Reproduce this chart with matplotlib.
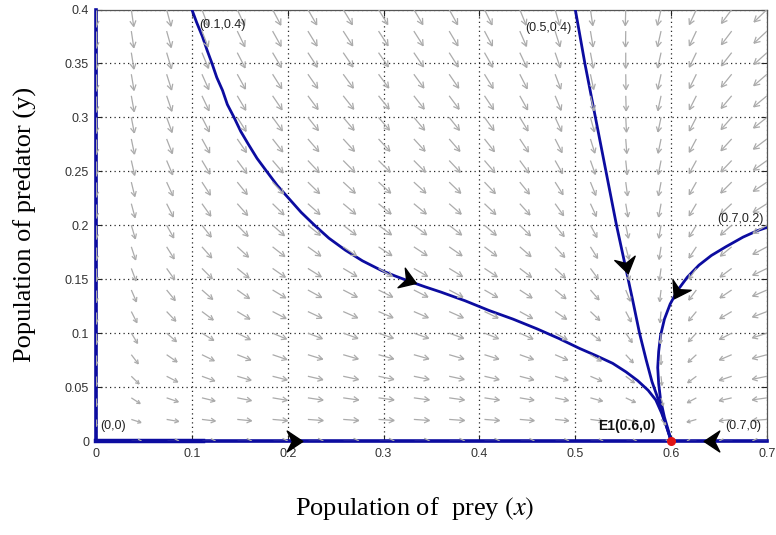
import numpy as np
import matplotlib
matplotlib.use("Agg")
import matplotlib.pyplot as plt
from matplotlib.collections import LineCollection
from matplotlib.markers import MarkerStyle
from matplotlib.path import Path
from matplotlib.transforms import Affine2D

# ---------------- data ----------------
x_ticks = [0, 0.1, 0.2, 0.3, 0.4, 0.5, 0.6, 0.7]
x_tick_labels = ["0", "0.1", "0.2", "0.3", "0.4", "0.5", "0.6", "0.7"]
y_ticks = [0, 0.05, 0.1, 0.15, 0.2, 0.25, 0.3, 0.35, 0.4]
y_tick_labels = ["0", "0.05", "0.1", "0.15", "0.2", "0.25", "0.3", "0.35", "0.4"]

# trajectories
traj_a_x = [0.100, 0.105, 0.111, 0.116, 0.121, 0.126, 0.132, 0.137, 0.144, 0.151,
            0.159, 0.168, 0.178, 0.189, 0.201, 0.214, 0.228, 0.243, 0.260, 0.278,
            0.298, 0.312, 0.327, 0.343, 0.360, 0.385, 0.410, 0.435, 0.460, 0.483,
            0.504, 0.522, 0.539, 0.553, 0.565, 0.576, 0.584, 0.590, 0.595, 0.600]
traj_a_y = [0.400, 0.388, 0.375, 0.362, 0.350, 0.337, 0.325, 0.312, 0.300, 0.287,
            0.275, 0.262, 0.250, 0.237, 0.225, 0.212, 0.200, 0.188, 0.177, 0.167,
            0.158, 0.153, 0.148, 0.143, 0.138, 0.130, 0.121, 0.113, 0.104, 0.095,
            0.086, 0.079, 0.072, 0.064, 0.056, 0.047, 0.038, 0.026, 0.014, 0.000]

traj_b_x = [0.500, 0.510, 0.521, 0.532, 0.543, 0.552, 0.560, 0.567, 0.574, 0.580,
            0.586, 0.592, 0.596, 0.600]
traj_b_y = [0.400, 0.350, 0.300, 0.250, 0.200, 0.163, 0.130, 0.100, 0.075, 0.055,
            0.040, 0.022, 0.011, 0.000]

traj_c_x = [0.700, 0.690, 0.675, 0.657, 0.642, 0.629, 0.617, 0.607, 0.599, 0.593,
            0.589, 0.587, 0.586, 0.587, 0.589, 0.593, 0.597, 0.600]
traj_c_y = [0.198, 0.195, 0.189, 0.180, 0.172, 0.163, 0.152, 0.140, 0.127, 0.113,
            0.098, 0.083, 0.068, 0.053, 0.038, 0.022, 0.010, 0.000]

axis_traj_x = [[0.0, 0.6], [0.7, 0.6], [0.0, 0.0], [0.0, 0.112]]
axis_traj_y = [[0.0, 0.0], [0.0, 0.0], [0.4, 0.0], [0.0, 0.0]]

# direction arrowheads on the trajectories
arrow_x = [0.326, 0.553, 0.607, 0.207, 0.643]
arrow_y = [0.149, 0.163, 0.139, 0.000, 0.000]
arrow_dx = [1.0, 0.24, -0.64, 1.0, -1.0]
arrow_dy = [-0.33, -1.0, -1.0, 0.0, 0.0]

# equilibrium
eq_x = [0.6]
eq_y = [0.0]

# point labels
label_texts = ["(0.1,0.4)", "(0.5,0.4)", "(0.7,0.2)", "(0,0)", "E1(0.6,0)", "(0.7,0)"]
label_x = [0.108, 0.496, 0.697, 0.004, 0.584, 0.694]
label_y = [0.386, 0.383, 0.2055, 0.014, 0.014, 0.014]

# model of the direction field (predator-prey system)
r_prey, K_prey, a_pred, d_pred, c_conv = 1.0, 0.6, 0.22, 0.5, 0.17
grid_x = np.linspace(0, 0.7, 20)
grid_y = np.linspace(0, 0.4, 21)

# ---------------- figure ----------------
plt.rcParams["mathtext.fontset"] = "stix"
fig = plt.figure(figsize=(7.76, 5.35), dpi=100)
ax = fig.add_axes([96 / 776, 1 - 441 / 535, (767 - 96) / 776, (441 - 9.5) / 535])
ax.set_xlim(0, 0.7)
ax.set_ylim(0, 0.4)

blue = "#0c0ca0"
ax.set_xticks(x_ticks)
ax.set_xticklabels(x_tick_labels)
ax.set_yticks(y_ticks)
ax.set_yticklabels(y_tick_labels)
ax.tick_params(direction="in", top=True, right=True, length=4, width=0.8,
               labelsize=9, labelcolor="#333333", color="#222222", pad=5)
for lab in ax.get_xticklabels() + ax.get_yticklabels():
    lab.set_fontfamily("Liberation Sans")
for sp in ax.spines.values():
    sp.set_color("#555555")
    sp.set_linewidth(0.9)

ax.grid(True, color="black", linestyle=(0, (1, 2.6)), linewidth=0.9, alpha=0.85)
ax.set_axisbelow(True)

# direction field as line arrows with open heads
X, Y = np.meshgrid(grid_x, grid_y)
U = r_prey * X * (1 - X / K_prey) - a_pred * X * Y
V = -d_pred * Y + c_conv * X * Y
M = np.hypot(U, V)
fig.canvas.draw()
tr = ax.transData
inv = tr.inverted()
sx = tr.transform((1, 0))[0] - tr.transform((0, 0))[0]
sy = tr.transform((0, 1))[1] - tr.transform((0, 0))[1]
Mmax = M.max()
segs = []
for xi, yi, ui, vi, mi in zip(X.ravel(), Y.ravel(), U.ravel(), V.ravel(), M.ravel()):
    if mi <= 1e-9:
        continue
    dxp, dyp = ui * sx, vi * sy
    n = np.hypot(dxp, dyp)
    ux, uy = dxp / n, dyp / n
    L = 18.0 * (mi / Mmax) ** 0.3
    T = tr.transform((xi, yi))
    H = T + L * np.array([ux, uy])
    h = 0.38 * L
    ang = np.deg2rad(28)
    b1 = H - h * np.array([ux * np.cos(ang) - uy * np.sin(ang), ux * np.sin(ang) + uy * np.cos(ang)])
    b2 = H - h * np.array([ux * np.cos(-ang) - uy * np.sin(-ang), ux * np.sin(-ang) + uy * np.cos(-ang)])
    Td, Hd, B1d, B2d = inv.transform(np.vstack([T, H, b1, b2]))
    segs += [[Td, Hd], [B1d, Hd], [B2d, Hd]]
lc = LineCollection(segs, colors="#ababab", linewidths=0.9, zorder=4)
ax.add_collection(lc)

# trajectories
for tx, ty in [(traj_a_x, traj_a_y), (traj_b_x, traj_b_y), (traj_c_x, traj_c_y)]:
    ax.plot(tx, ty, color=blue, lw=2.0, zorder=3, solid_capstyle="round",
            solid_joinstyle="round")
for i, (tx, ty) in enumerate(zip(axis_traj_x, axis_traj_y)):
    ax.plot(tx, ty, color=blue, lw=3.2 if i == 3 else 2.6, zorder=3, clip_on=False)

# arrowheads on trajectories
head_path = Path([(8, 0), (-7, 10), (-2, 0), (-7, -10), (8, 0)],
                 [Path.MOVETO, Path.LINETO, Path.LINETO, Path.LINETO, Path.CLOSEPOLY])
for xa, ya, dxa, dya in zip(arrow_x, arrow_y, arrow_dx, arrow_dy):
    angle = np.degrees(np.arctan2(dya * sy, dxa * sx))
    m = MarkerStyle(head_path, transform=Affine2D().rotate_deg(angle))
    ax.plot([xa], [ya], marker=m, markersize=15, color="black", linestyle="none",
            zorder=6, clip_on=False)

# equilibrium point
ax.plot(eq_x, eq_y, "o", color="#e01515", markersize=5.5, zorder=7, clip_on=False)

# labels
for t, lx, ly in zip(label_texts, label_x, label_y):
    if t.startswith("E1"):
        ax.text(lx, ly, t, ha="right", va="center", fontsize=10, fontweight="bold",
                family="Liberation Sans", color="#111111", zorder=8)
    elif t in ("(0.5,0.4)", "(0.7,0.2)", "(0.7,0)"):
        ax.text(lx, ly, t, ha="right", va="center", fontsize=9,
                family="Liberation Sans", color="#222222", zorder=8)
    else:
        ax.text(lx, ly, t, ha="left", va="center", fontsize=9,
                family="Liberation Sans", color="#222222", zorder=8)

# axis titles
fig.text(415 / 776, 1 - 508 / 535, "Population of  prey $(x)$", ha="center", va="center",
         fontsize=19, family="Liberation Serif")
fig.text(25 / 776, 1 - 224 / 535, "Population of predator (y)", ha="center", va="center",
         rotation=90, fontsize=19, family="Liberation Serif")

fig.savefig("out.png", dpi=100)
